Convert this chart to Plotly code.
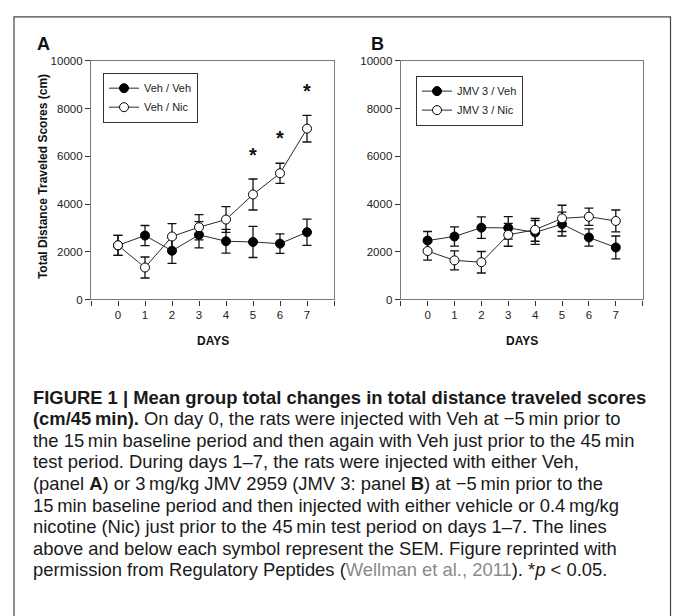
import plotly.graph_objects as go

W, H = 673, 616

# ---------------- data ----------------
days = [0, 1, 2, 3, 4, 5, 6, 7]

# Panel A
veh_veh = [2270, 2680, 2040, 2710, 2440, 2410, 2340, 2820]
veh_veh_sem = [420, 420, 530, 550, 500, 650, 410, 550]
veh_nic = [2270, 1340, 2640, 3030, 3350, 4400, 5290, 7160]
veh_nic_sem = [420, 440, 540, 530, 540, 650, 420, 560]
star_days = [5, 6, 7]
star_y = [5960, 6690, 8670]

# Panel B
jmv_veh = [2470, 2640, 3010, 3000, 2810, 3160, 2600, 2180]
jmv_veh_sem = [380, 400, 450, 470, 500, 500, 360, 480]
jmv_nic = [2030, 1640, 1560, 2710, 2920, 3400, 3470, 3290]
jmv_nic_sem = [380, 400, 450, 480, 480, 550, 360, 460]

y_ticks = [0, 2000, 4000, 6000, 8000, 10000]
x_tickvals = [-1, 0, 1, 2, 3, 4, 5, 6, 7, 8]
x_ticktext = ["", "0", "1", "2", "3", "4", "5", "6", "7", ""]

caption_lines = [
    "<b>FIGURE 1 | Mean group total changes in total distance traveled scores</b>",
    "<b>(cm/45\u2009min).</b> On day 0, the rats were injected with Veh at \u22125\u2009min prior to",
    "the 15\u2009min baseline period and then again with Veh just prior to the 45\u2009min",
    "test period. During days 1\u20137, the rats were injected with either Veh,",
    "(panel <b>A</b>) or 3\u2009mg/kg JMV 2959 (JMV 3: panel <b>B</b>) at \u22125\u2009min prior to the",
    "15\u2009min baseline period and then injected with either vehicle or 0.4\u2009mg/kg",
    "nicotine (Nic) just prior to the 45\u2009min test period on days 1\u20137. The lines",
    "above and below each symbol represent the SEM. Figure reprinted with",
    "permission from Regulatory Peptides (<span style='color:#8a8a8a'>Wellman et al., 2011</span>). *<i>p</i> < 0.05.",
]

FONT = "Liberation Sans, Arial, sans-serif"
LINE_C = "#2a2a2a"
ERR_C = "#111111"


def px(x):
    return x / W


def py(y):
    return 1 - y / H


def series(x, y, sem, name, filled, xa, ya, legend):
    return go.Scatter(
        x=x, y=y, name=name, mode="lines+markers",
        xaxis=xa, yaxis=ya, legend=legend,
        line=dict(color=LINE_C, width=1),
        marker=dict(size=9, color="black" if filled else "white",
                    line=dict(color="black", width=1), symbol="circle"),
        error_y=dict(type="data", array=sem, visible=True, color=ERR_C,
                     thickness=1.3, width=4.5),
    )


fig = go.Figure()
fig.add_trace(series(days, veh_veh, veh_veh_sem, "Veh / Veh", True, "x", "y", "legend"))
fig.add_trace(series(days, veh_nic, veh_nic_sem, "Veh / Nic", False, "x", "y", "legend"))
fig.add_trace(go.Scatter(x=star_days, y=star_y, mode="text", text=["<b>*</b>"] * len(star_days),
                         textfont=dict(size=20, color="#111", family=FONT),
                         xaxis="x", yaxis="y", showlegend=False, hoverinfo="skip"))
fig.add_trace(series(days, jmv_veh, jmv_veh_sem, "JMV 3 / Veh", True, "x2", "y2", "legend2"))
fig.add_trace(series(days, jmv_nic, jmv_nic_sem, "JMV 3 / Nic", False, "x2", "y2", "legend2"))

axis_common = dict(showline=True, linecolor="#7a7a7a", linewidth=1.2, mirror=True,
                   ticks="outside", ticklen=5, tickcolor="#333", tickwidth=1,
                   showgrid=False, zeroline=False,
                   tickfont=dict(size=11.5, color="#222", family=FONT))

ydom = [py(299.3), py(56)]
fig.update_layout(
    width=W, height=H, margin=dict(l=0, r=0, t=0, b=0),
    paper_bgcolor="white", plot_bgcolor="white",
    font=dict(family=FONT, color="#222"),
    xaxis=dict(domain=[px(91), px(334)], range=[-1, 8], tickvals=x_tickvals,
               ticktext=x_ticktext, anchor="y", **axis_common),
    yaxis=dict(domain=ydom, range=[0, 10000], tickvals=y_ticks, tickformat="d",
               anchor="x", **axis_common),
    xaxis2=dict(domain=[px(400.7), px(642.7)], range=[-1, 8], tickvals=x_tickvals,
                ticktext=x_ticktext, anchor="y2", **axis_common),
    yaxis2=dict(domain=ydom, range=[0, 10000], tickvals=y_ticks, tickformat="d",
                anchor="x2", **axis_common),
    legend=dict(x=px(103), y=py(68), xanchor="left", yanchor="top",
                bgcolor="white", bordercolor="#333", borderwidth=1,
                font=dict(size=11, color="#222", family=FONT),
                itemwidth=30, tracegroupgap=0),
    legend2=dict(x=px(416), y=py(71), xanchor="left", yanchor="top",
                 bgcolor="white", bordercolor="#333", borderwidth=1,
                 font=dict(size=11, color="#222", family=FONT),
                 itemwidth=30, tracegroupgap=0),
    showlegend=True,
)

annotations = [
    dict(text="<b>A</b>", x=px(35), y=py(39), xanchor="left", yanchor="middle",
         font=dict(size=18, color="#111", family=FONT)),
    dict(text="<b>B</b>", x=px(369), y=py(39), xanchor="left", yanchor="middle",
         font=dict(size=18, color="#111", family=FONT)),
    dict(text="<b>Total Distance Traveled Scores (cm)</b>", x=px(42.5), y=py(174),
         textangle=-90, xanchor="center", yanchor="middle",
         font=dict(size=12, color="#111", family=FONT)),
    dict(text="<b>DAYS</b>", x=px(212.5), y=py(342), xanchor="center", yanchor="middle",
         font=dict(size=12, color="#111", family=FONT)),
    dict(text="<b>DAYS</b>", x=px(521.7), y=py(342), xanchor="center", yanchor="middle",
         font=dict(size=12, color="#111", family=FONT)),
]
for i, line in enumerate(caption_lines):
    annotations.append(dict(text=line, x=px(31), y=py(399 + 22 * i), xanchor="left",
                            yanchor="middle", align="left",
                            font=dict(size=18.4, color="#1a1a1a", family=FONT)))
for a in annotations:
    a.update(xref="paper", yref="paper", showarrow=False)
fig.update_layout(annotations=annotations)

fig.add_shape(type="rect", xref="paper", yref="paper",
              x0=px(14), x1=px(670.5), y0=-0.05, y1=py(11),
              line=dict(color="#444", width=1.2), fillcolor="rgba(0,0,0,0)")

fig.write_html("out.html", config={"displayModeBar": False},
               post_script="document.body.style.margin='0';document.body.style.overflow='hidden';")
